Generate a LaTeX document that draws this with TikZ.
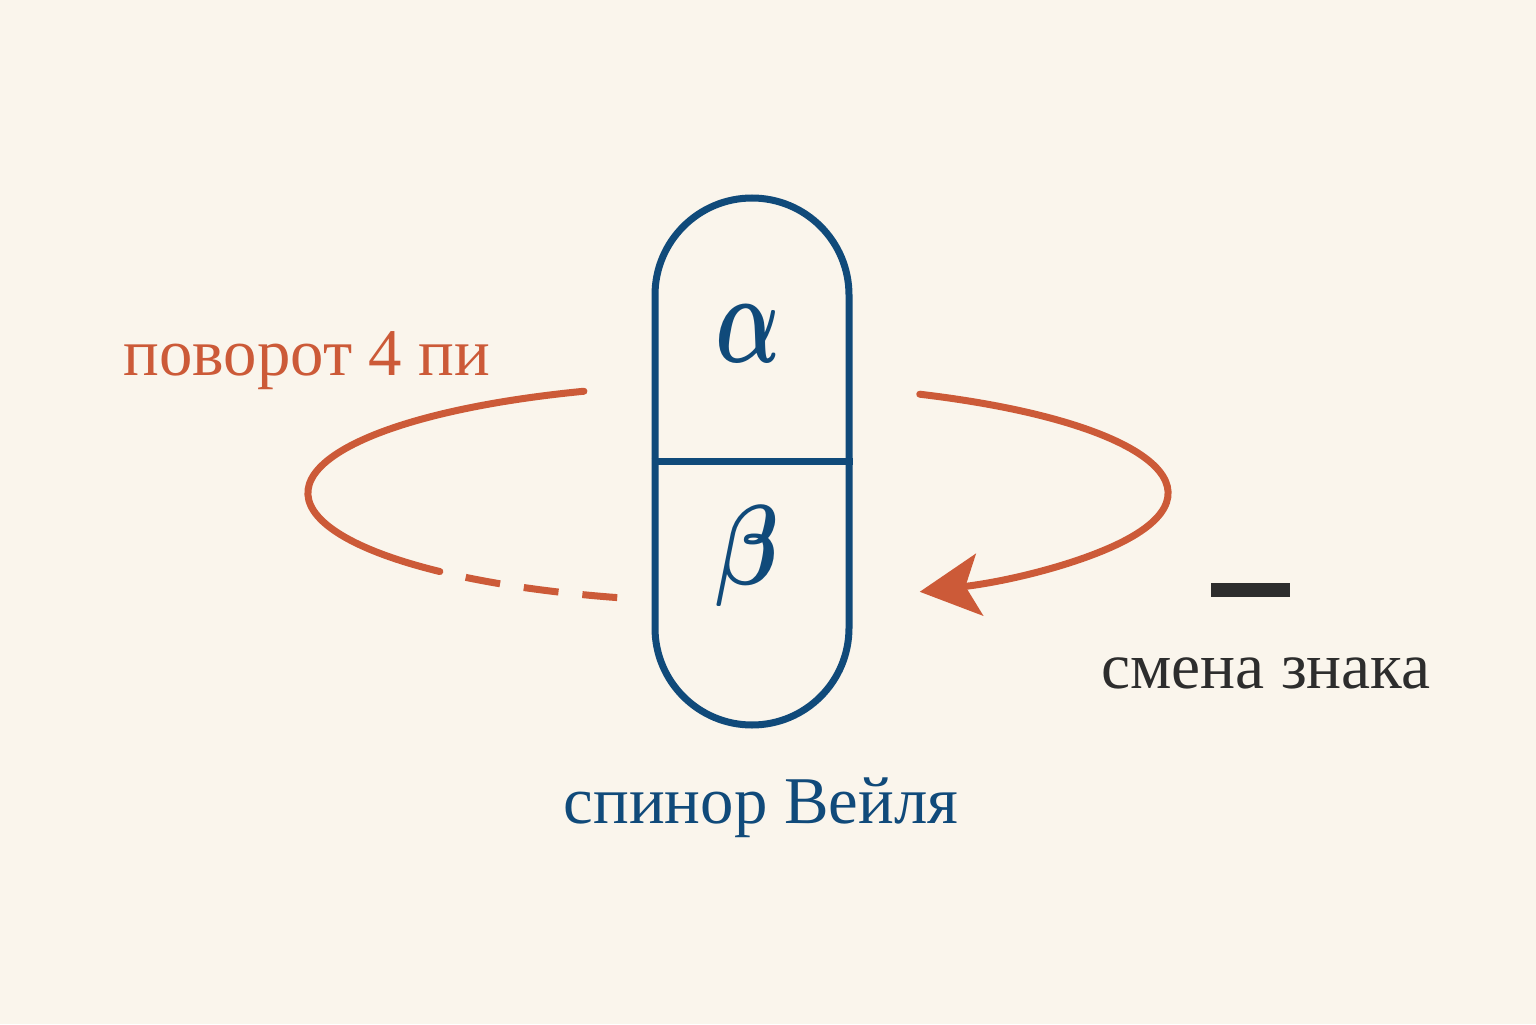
\documentclass[tikz,border=0pt]{standalone}
\usepackage{fontspec}
\setmainfont{Liberation Serif}
\usetikzlibrary{calc,arrows.meta}
\definecolor{bgc}{RGB}{250,245,236}
\definecolor{rot}{RGB}{204,90,56}
\definecolor{spin}{RGB}{16,74,122}
\definecolor{ink}{RGB}{45,45,45}
\tikzset{
  capsule/.style={draw=spin, line width=0.07cm, rounded corners=0.97cm, minimum width=1.94cm, minimum height=5.27cm, inner sep=0pt},
  greek/.style={text=spin, inner sep=0pt, font=\Huge\boldmath},
  rotline/.style={draw=rot, line width=0.07cm},
  lbl/.style={font=\fontsize{19}{23}\selectfont, anchor=base, inner sep=0pt}
}
\begin{document}
\begin{tikzpicture}
\useasboundingbox (0,0) rectangle (15.36,10.24);
\fill[bgc] (0,0) rectangle (15.36,10.24);
\coordinate (c) at (7.38,5.31);
\node[capsule] (cap) at (7.52,5.625) {};
\draw[spin, line width=0.07cm] (cap.west) -- (cap.east);
\node[greek, xscale=0.98, yscale=1.48] (al) at (7.48,6.90) {$\alpha$};
\node[greek, xscale=1.05, yscale=1.3] (be) at (7.47,4.68) {$\beta$};
% rotation loop
\coordinate (rs) at ($(c)+(65:4.3cm and 1.09cm)$);
\coordinate (ls) at ($(c)+(111:4.3cm and 1.09cm)$);
\coordinate (ds) at ($(c)+(230.7:4.3cm and 1.09cm)$);
\draw[rotline, line cap=round, -{Stealth[length=0.6cm, width=0.62cm, inset=0.14cm]}] (rs) arc[start angle=65, end angle=-65, x radius=4.3cm, y radius=1.09cm];
\draw[rotline, line cap=round] (ls) arc[start angle=111, end angle=226.1, x radius=4.3cm, y radius=1.09cm];
\draw[rotline, dash pattern=on 0.35cm off 0.24cm] (ds) arc[start angle=230.7, end angle=254.1, x radius=4.3cm, y radius=1.09cm];
% labels
\node[lbl, text=rot] (t1) at (3.07,6.49) {поворот 4 пи};
\node[lbl, text=spin] (t2) at (7.61,2.01) {спинор Вейля};
\node[fill=ink, minimum width=0.79cm, minimum height=0.14cm, inner sep=0pt] (minus) at (12.50,4.34) {};
\node[lbl, text=ink, font=\fontsize{18.6}{22}\selectfont] (t3) at (12.66,3.36) {смена знака};
\end{tikzpicture}
\end{document}
